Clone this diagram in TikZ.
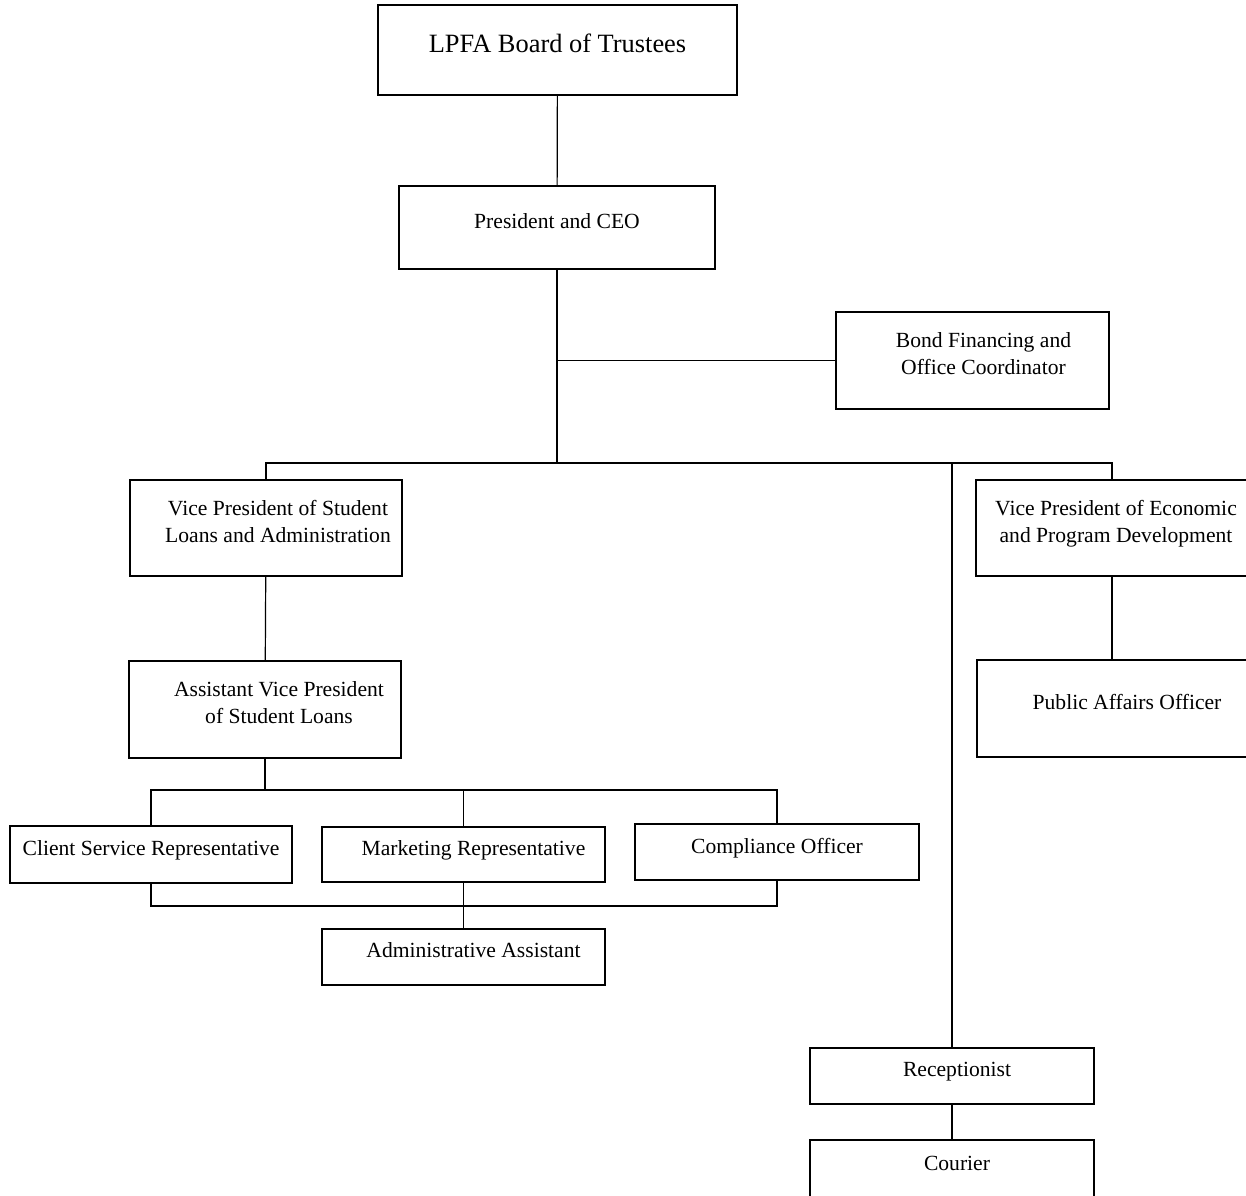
\documentclass[tikz,border=0pt]{standalone}
\usepackage{fontspec}
\setmainfont{Liberation Serif}
\usetikzlibrary{positioning,calc}

\begin{document}
\begin{tikzpicture}[
    x=0.5pt, y=-0.5pt,
    every node/.style={font=\fontsize{10.8}{13.5}\selectfont, text=black},
    box/.style 2 args={draw=black, line width=0.6pt, fill=white,
        minimum width=#1*0.5pt, minimum height=#2*0.5pt, inner sep=2pt,
        text depth=6.6pt, align=center},
    link/.style={draw=black, line width=0.6pt},
]

% Frame of the page (boxes at the edge are cut off)
\clip (0,0) rectangle (1246,1195);
\fill[white] (0,0) rectangle (1246,1195);

% Top
\node[box={359}{90}, font=\fontsize{13.2}{16}\selectfont] (board) at (557.5,50) {LPFA Board of Trustees};
\node[box={316}{83}] (ceo) at (557,227.5) {President and CEO};
\node[box={273}{97}] (bond) at (972.5,360.5)
    {\hspace*{11pt}Bond Financing and\\\hspace*{11pt}Office Coordinator};

% Vice presidents
\node[box={272}{96}] (vpsl) at (266,528)
    {\hspace*{12pt}Vice President of Student\\\hspace*{12pt}Loans and Administration};
\node[box={272}{96}] (vpecon) at (1112,528)
    {\hspace*{4pt}Vice President of Economic\\\hspace*{4pt}and Program Development};

\node[box={272}{97}] (avp) at (265,709.5)
    {\hspace*{14pt}Assistant Vice President\\\hspace*{14pt}of Student Loans};
\node[box={270}{97}] (pubaff) at (1112,708.5) {\hspace*{15pt}Public Affairs Officer};

% Staff under the AVP
\node[box={282}{57}] (client) at (151,854.5) {Client Service Representative};
\node[box={283}{55}] (mkt) at (463.5,854.5) {\hspace*{10pt}Marketing Representative};
\node[box={284}{56}] (comp) at (777,852) {Compliance Officer};
\node[box={283}{56}] (admin) at (463.5,957) {\hspace*{10pt}Administrative Assistant};

% Front office
\node[box={284}{56}] (recep) at (952,1076) {\hspace*{5pt}Receptionist};
\node[box={284}{60}] (courier) at (952,1170) {\hspace*{5pt}Courier};

% Connectors
\coordinate (bus) at (557,463);
\coordinate (split) at (265,790);
\coordinate (join) at (463.5,906);

\draw[link] (board) -- (ceo);
\draw[link] (ceo.south) -- (bus);
\draw[link] (ceo.south |- bond.west) -- (bond.west);
\draw[link] (vpsl.north) |- (bus) -| (vpecon.north);
\draw[link] (recep.north) -- (recep.north |- bus);

\draw[link] (vpsl) -- (avp);
\draw[link] (vpecon) -- (pubaff);

\draw[link] (avp.south) -- (split);
\draw[link] (client.north) |- (split) -| (comp.north);
\draw[link] (mkt.north) -- (mkt.north |- split);

\draw[link] (client.south) |- (join) -| (comp.south);
\draw[link] (mkt.south) -- (admin.north);

\draw[link] (recep) -- (courier);

\end{tikzpicture}
\end{document}
